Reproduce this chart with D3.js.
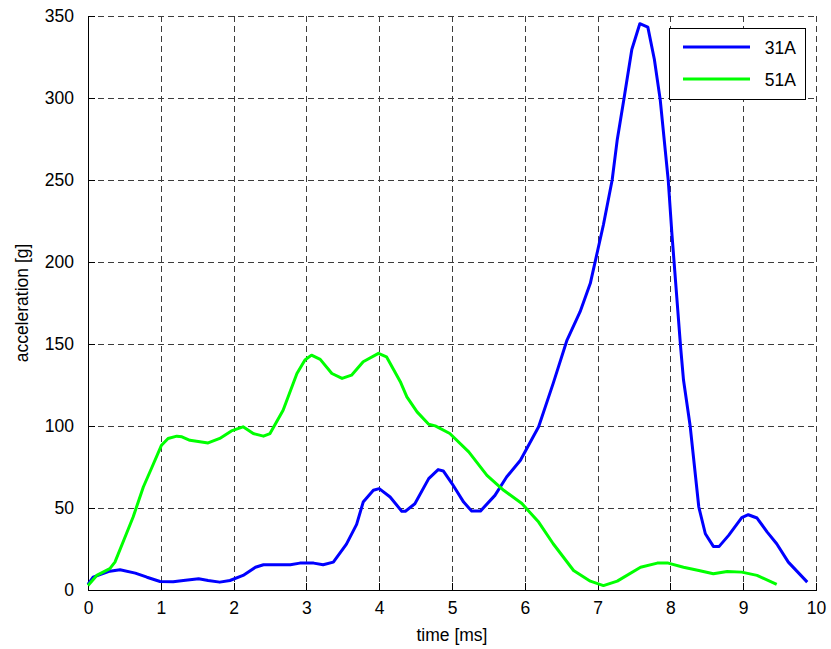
<!DOCTYPE html>
<html>
<head>
<meta charset="utf-8">
<script src="https://cdn.jsdelivr.net/npm/d3@7"></script>
<style>
  body { margin: 0; background: #fff; }
  svg { font-family: "Liberation Sans", Arial, sans-serif; }
  .grid line { stroke: #3c3c3c; stroke-width: 1; stroke-dasharray: 6,4; shape-rendering: crispEdges; }
  .axis path, .axis line { stroke: #000; shape-rendering: crispEdges; }
  .axis text { font-size: 17.5px; fill: #000; }
</style>
</head>
<body>
<div id="chart"></div>
<script>
// series 31A (time in ms, acceleration in g)
var t31 = [0, 0.07, 0.3, 0.44, 0.65, 0.81, 0.99, 1.17, 1.31, 1.52, 1.65, 1.81, 1.95, 2.13, 2.3, 2.41, 2.78, 2.91, 3.1, 3.23, 3.37, 3.55, 3.69, 3.78, 3.92, 4.0,
  4.15, 4.31, 4.36, 4.49, 4.68, 4.81, 4.88, 5.0, 5.16, 5.27, 5.39, 5.59, 5.75, 5.94, 6.19, 6.39, 6.58, 6.76, 6.9, 7.08, 7.2, 7.27, 7.36, 7.47, 7.58, 7.69,
  7.78, 7.86, 7.97, 8.02, 8.14, 8.18, 8.27, 8.39, 8.48, 8.59, 8.67, 8.8, 8.98, 9.07, 9.19, 9.33, 9.46, 9.62, 9.88];
var a31 = [3.5, 7.8, 11.5, 12.3, 10.3, 7.8, 5.2, 5, 5.8, 6.8, 5.8, 4.8, 5.8, 8.9, 13.9, 15.4, 15.4, 16.4, 16.4, 15.4, 17, 28, 40, 53.6, 60.8, 61.8,
  56.7, 48, 48, 52.6, 67.9, 73.4, 72.6, 64.9, 53.6, 48.1, 48.1, 57.7, 68.9, 79.1, 99.5, 126, 152.4, 169.7, 187, 222.7, 250, 274.6, 299, 329.6, 345.3, 343.2,
  323.5, 299, 250, 217.6, 148.3, 128, 100.5, 50.6, 34.3, 26.6, 26.6, 33.3, 44.1, 45.9, 43.9, 35.3, 28.2, 17, 4.8];

// series 51A
var t51 = [0, 0.12, 0.3, 0.37, 0.49, 0.62, 0.76, 0.88, 1.01, 1.1, 1.22, 1.29, 1.4, 1.65, 1.81, 1.97, 2.13, 2.27, 2.41, 2.5, 2.68, 2.87, 2.98, 3.07,
  3.19, 3.35, 3.49, 3.62, 3.78, 3.99, 4.1, 4.29, 4.38, 4.52, 4.68, 4.77, 4.97, 5.23, 5.48, 5.71, 5.96, 6.19, 6.39, 6.67, 6.9, 7.08, 7.27, 7.59, 7.82,
  7.97, 8.18, 8.39, 8.59, 8.78, 8.98, 9.19, 9.46];
var a51 = [2.7, 8.9, 13, 17, 30.2, 44.5, 62.8, 75, 88.3, 92.4, 93.8, 93.4, 91.3, 89.7, 92.4, 97, 99.5, 95.4, 93.8, 95.4, 109.6, 132, 140.2, 143.2,
  140.6, 132, 129, 131, 139.2, 144.3, 142.2, 127, 117.8, 108.6, 101.1, 100.1, 95.4, 84.2, 69.9, 60.8, 52.7, 41.4, 28.2, 11.9, 5.4, 2.7, 5.4, 13.9, 16.4,
  16.4, 13.9, 11.9, 9.9, 11.3, 10.9, 8.9, 3.4];

var seriesNames = ["31A", "51A"];
var seriesColors = ["#0000ff", "#00ff00"];
var xTicks = [0, 1, 2, 3, 4, 5, 6, 7, 8, 9, 10];
var yTicks = [0, 50, 100, 150, 200, 250, 300, 350];

var width = 831, height = 649;
var margin = {top: 16, right: 15, bottom: 59, left: 88};
var w = width - margin.left - margin.right;
var h = height - margin.top - margin.bottom;

var svg = d3.select("#chart").append("svg")
    .attr("width", width)
    .attr("height", height);

var g = svg.append("g")
    .attr("transform", "translate(" + margin.left + "," + margin.top + ")");

var x = d3.scaleLinear().domain([0, 10]).range([0, w]);
var y = d3.scaleLinear().domain([0, 350]).range([h, 0]);

// dashed grid (also forms the top and right edges)
g.append("g").attr("class", "grid")
  .selectAll("line").data(xTicks.slice(1))
  .enter().append("line")
    .attr("x1", function (d) { return Math.round(x(d)) + 0.5; })
    .attr("x2", function (d) { return Math.round(x(d)) + 0.5; })
    .attr("y1", 0).attr("y2", h);

g.append("g").attr("class", "grid")
  .selectAll("line").data(yTicks.slice(1))
  .enter().append("line")
    .attr("y1", function (d) { return Math.round(y(d)) + 0.5; })
    .attr("y2", function (d) { return Math.round(y(d)) + 0.5; })
    .attr("x1", 0).attr("x2", w);

// axes with inward ticks
var xAxis = d3.axisBottom(x).tickValues(xTicks).tickSizeInner(-7).tickSizeOuter(0).tickPadding(12);
var yAxis = d3.axisLeft(y).tickValues(yTicks).tickSizeInner(-7).tickSizeOuter(0).tickPadding(14);

g.append("g").attr("class", "axis")
    .attr("transform", "translate(0," + h + ")")
    .call(xAxis);

g.append("g").attr("class", "axis")
    .call(yAxis);

// lines
var line = d3.line()
    .x(function (d) { return x(d[0]); })
    .y(function (d) { return y(d[1]); });

var data = [d3.zip(t31, a31), d3.zip(t51, a51)];

g.selectAll(".series")
  .data(data)
  .enter().append("path")
    .attr("class", "series")
    .attr("d", line)
    .attr("fill", "none")
    .attr("stroke", function (d, i) { return seriesColors[i]; })
    .attr("stroke-width", 3)
    .attr("stroke-linejoin", "round");

// axis labels
svg.append("text")
    .attr("x", margin.left + w / 2)
    .attr("y", 641)
    .attr("text-anchor", "middle")
    .style("font-size", "17.5px")
    .text("time [ms]");

svg.append("text")
    .attr("transform", "translate(28," + (margin.top + h / 2) + ") rotate(-90)")
    .attr("text-anchor", "middle")
    .style("font-size", "17.5px")
    .text("acceleration [g]");

// legend
var legend = svg.append("g").attr("transform", "translate(669,28)");
legend.append("rect")
    .attr("x", 0.5).attr("y", 0.5)
    .attr("width", 136).attr("height", 71)
    .attr("fill", "#fff")
    .attr("stroke", "#000");

var items = legend.selectAll(".item")
  .data(seriesNames)
  .enter().append("g")
    .attr("transform", function (d, i) { return "translate(0," + (19 + i * 32) + ")"; });

items.append("line")
    .attr("x1", 14).attr("x2", 81)
    .attr("stroke", function (d, i) { return seriesColors[i]; })
    .attr("stroke-width", 3);

items.append("text")
    .attr("x", 127)
    .attr("y", 7)
    .attr("text-anchor", "end")
    .style("font-size", "17.5px")
    .text(function (d) { return d; });
</script>
</body>
</html>
